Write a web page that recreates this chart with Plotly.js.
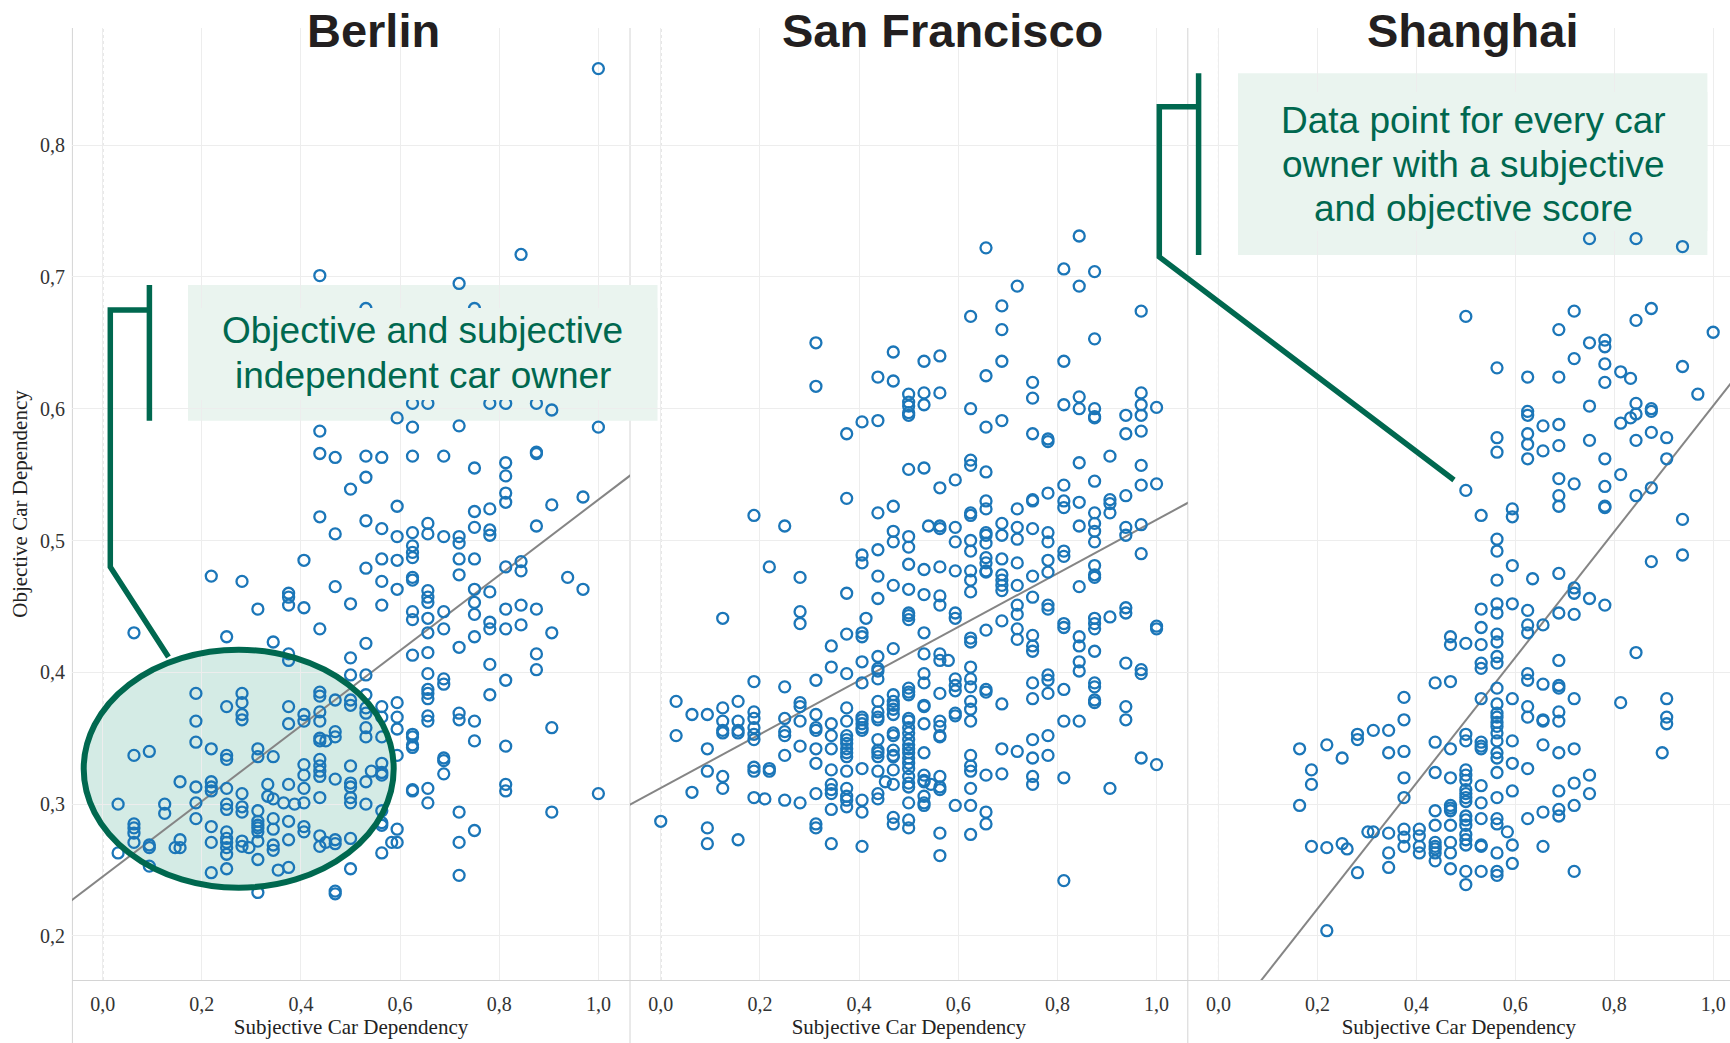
<!DOCTYPE html>
<html>
<head>
<meta charset="utf-8">
<script src="https://cdn.plot.ly/plotly-3.0.1.min.js"></script>
<style>
html,body{margin:0;padding:0;background:#ffffff;}
#chart{width:1730px;height:1043px;}
</style>
</head>
<body>
<div id="chart"></div>
<script>
// ---------------- DATA ----------------
const panelTitles = ['Berlin', 'San Francisco', 'Shanghai'];
const xAxisTitle = 'Subjective Car Dependency';
const yAxisTitle = 'Objective Car Dependency';
const xTickValues = [0, 0.2, 0.4, 0.6, 0.8, 1.0];
const xTickLabels = ['0,0', '0,2', '0,4', '0,6', '0,8', '1,0'];
const yTickValues = [0.2, 0.3, 0.4, 0.5, 0.6, 0.7, 0.8];
const yTickLabels = ['0,2', '0,3', '0,4', '0,5', '0,6', '0,7', '0,8'];
const berlinNote = ['Objective and subjective', 'independent car owner'];
const shanghaiNote = ['Data point for every car', 'owner with a subjective', 'and objective score'];

// [subjective, objective] per car owner
const berlinPoints = [
[0.031,0.300],[0.031,0.263],
[0.063,0.430],[0.063,0.337],[0.063,0.285],[0.063,0.282],[0.063,0.278],[0.063,0.271],
[0.094,0.340],[0.094,0.269],[0.094,0.267],[0.094,0.253],
[0.125,0.300],[0.125,0.293],[0.146,0.267],
[0.156,0.317],[0.156,0.273],[0.156,0.267],
[0.188,0.384],[0.188,0.363],[0.188,0.347],[0.188,0.313],[0.188,0.301],[0.188,0.289],
[0.219,0.473],[0.219,0.342],[0.219,0.317],[0.219,0.313],[0.219,0.310],[0.219,0.283],[0.219,0.271],[0.219,0.248],
[0.25,0.427],[0.25,0.374],[0.25,0.337],[0.25,0.334],[0.25,0.312],[0.25,0.300],[0.25,0.296],[0.25,0.279],[0.25,0.274],[0.25,0.271],[0.25,0.267],[0.25,0.262],[0.25,0.251],
[0.281,0.469],[0.281,0.384],[0.281,0.377],[0.281,0.368],[0.281,0.364],[0.281,0.308],[0.281,0.298],[0.281,0.294],[0.281,0.272],[0.281,0.268],
[0.295,0.267],
[0.313,0.448],[0.313,0.342],[0.313,0.336],[0.313,0.295],[0.313,0.287],[0.313,0.284],[0.313,0.282],[0.313,0.279],[0.313,0.272],[0.313,0.258],[0.313,0.233],
[0.333,0.315],[0.333,0.306],
[0.344,0.423],[0.344,0.336],[0.344,0.304],[0.344,0.289],[0.344,0.281],[0.344,0.269],[0.344,0.265],
[0.354,0.250],[0.365,0.301],
[0.375,0.460],[0.375,0.457],[0.375,0.451],[0.375,0.414],[0.375,0.409],[0.375,0.374],[0.375,0.361],[0.375,0.315],[0.375,0.287],[0.375,0.273],[0.375,0.252],
[0.387,0.300],
[0.406,0.485],[0.406,0.449],[0.406,0.368],[0.406,0.363],[0.406,0.330],[0.406,0.322],[0.406,0.312],[0.406,0.301],[0.406,0.283],[0.406,0.279],
[0.438,0.701],[0.438,0.583],[0.438,0.566],[0.438,0.518],[0.438,0.433],[0.438,0.385],[0.438,0.382],[0.438,0.370],[0.438,0.363],[0.438,0.350],[0.438,0.348],[0.438,0.334],[0.438,0.329],[0.438,0.325],[0.438,0.321],[0.438,0.305],[0.438,0.276],[0.438,0.268],
[0.45,0.348],[0.45,0.271],
[0.469,0.563],[0.469,0.505],[0.469,0.465],[0.469,0.379],[0.469,0.355],[0.469,0.351],[0.469,0.319],[0.469,0.273],[0.469,0.270],[0.469,0.234],[0.469,0.232],
[0.5,0.539],[0.5,0.452],[0.5,0.411],[0.5,0.398],[0.5,0.379],[0.5,0.375],[0.5,0.329],[0.5,0.316],[0.5,0.313],[0.5,0.305],[0.5,0.301],[0.5,0.274],[0.5,0.251],
[0.531,0.676],[0.531,0.564],[0.531,0.548],[0.531,0.515],[0.531,0.479],[0.531,0.422],[0.531,0.398],[0.531,0.383],[0.531,0.373],[0.531,0.369],[0.531,0.358],[0.531,0.351],[0.531,0.317],[0.531,0.300],
[0.542,0.325],
[0.563,0.563],[0.563,0.509],[0.563,0.486],[0.563,0.469],[0.563,0.451],[0.563,0.374],[0.563,0.366],[0.563,0.351],[0.563,0.331],[0.563,0.324],[0.563,0.322],[0.563,0.295],[0.563,0.286],[0.563,0.284],[0.563,0.263],
[0.583,0.271],
[0.594,0.593],[0.594,0.526],[0.594,0.503],[0.594,0.485],[0.594,0.463],[0.594,0.377],[0.594,0.366],[0.594,0.357],[0.594,0.337],[0.594,0.281],[0.594,0.271],
[0.625,0.604],[0.625,0.586],[0.625,0.564],[0.625,0.506],[0.625,0.496],[0.625,0.491],[0.625,0.487],[0.625,0.472],[0.625,0.470],[0.625,0.446],[0.625,0.440],[0.625,0.413],[0.625,0.353],[0.625,0.351],[0.625,0.345],[0.625,0.343],[0.625,0.311],[0.625,0.310],
[0.656,0.604],[0.656,0.513],[0.656,0.505],[0.656,0.462],[0.656,0.457],[0.656,0.453],[0.656,0.441],[0.656,0.430],[0.656,0.415],[0.656,0.399],[0.656,0.387],[0.656,0.384],[0.656,0.380],[0.656,0.367],[0.656,0.363],[0.656,0.312],[0.656,0.301],
[0.688,0.564],[0.688,0.503],[0.688,0.446],[0.688,0.433],[0.688,0.395],[0.688,0.391],[0.688,0.335],[0.688,0.333],[0.688,0.323],
[0.719,0.695],[0.719,0.587],[0.719,0.503],[0.719,0.498],[0.719,0.486],[0.719,0.474],[0.719,0.419],[0.719,0.369],[0.719,0.364],[0.719,0.294],[0.719,0.271],[0.719,0.246],
[0.75,0.676],[0.75,0.555],[0.75,0.522],[0.75,0.510],[0.75,0.486],[0.75,0.463],[0.75,0.453],[0.75,0.444],[0.75,0.427],[0.75,0.363],[0.75,0.348],[0.75,0.280],
[0.781,0.604],[0.781,0.524],[0.781,0.508],[0.781,0.504],[0.781,0.461],[0.781,0.438],[0.781,0.433],[0.781,0.406],[0.781,0.383],
[0.813,0.604],[0.813,0.559],[0.813,0.549],[0.813,0.536],[0.813,0.529],[0.813,0.480],[0.813,0.448],[0.813,0.433],[0.813,0.394],[0.813,0.344],[0.813,0.315],[0.813,0.310],
[0.844,0.717],[0.844,0.484],[0.844,0.477],[0.844,0.451],[0.844,0.436],
[0.875,0.604],[0.875,0.567],[0.875,0.566],[0.875,0.511],[0.875,0.448],[0.875,0.414],[0.875,0.402],
[0.906,0.599],[0.906,0.527],[0.906,0.430],[0.906,0.358],[0.906,0.294],
[0.938,0.472],
[0.969,0.533],[0.969,0.463],
[1.0,0.858],[1.0,0.586],[1.0,0.308]
];

const sanFranciscoPoints = [
[0.0,0.287],
[0.031,0.378],[0.031,0.352],
[0.063,0.368],[0.063,0.309],
[0.094,0.368],[0.094,0.342],[0.094,0.325],[0.094,0.282],[0.094,0.270],
[0.125,0.441],[0.125,0.373],[0.125,0.363],[0.125,0.356],[0.125,0.354],[0.125,0.321],[0.125,0.312],
[0.156,0.378],[0.156,0.363],[0.156,0.356],[0.156,0.354],[0.156,0.273],
[0.188,0.519],[0.188,0.393],[0.188,0.370],[0.188,0.365],[0.188,0.358],[0.188,0.353],[0.188,0.349],[0.188,0.328],[0.188,0.325],[0.188,0.305],
[0.21,0.304],
[0.219,0.480],[0.219,0.327],[0.219,0.325],
[0.25,0.511],[0.25,0.389],[0.25,0.365],[0.25,0.355],[0.25,0.352],[0.25,0.337],[0.25,0.303],
[0.281,0.472],[0.281,0.446],[0.281,0.437],[0.281,0.377],[0.281,0.374],[0.281,0.363],[0.281,0.344],[0.281,0.301],
[0.313,0.650],[0.313,0.617],[0.313,0.394],[0.313,0.368],[0.313,0.358],[0.313,0.356],[0.313,0.342],[0.313,0.331],[0.313,0.308],[0.313,0.285],[0.313,0.282],
[0.344,0.420],[0.344,0.404],[0.344,0.361],[0.344,0.352],[0.344,0.342],[0.344,0.326],[0.344,0.315],[0.344,0.311],[0.344,0.308],[0.344,0.296],[0.344,0.270],
[0.375,0.581],[0.375,0.532],[0.375,0.460],[0.375,0.429],[0.375,0.399],[0.375,0.373],[0.375,0.363],[0.375,0.352],[0.375,0.349],[0.375,0.346],[0.375,0.342],[0.375,0.339],[0.375,0.336],[0.375,0.325],[0.375,0.312],[0.375,0.306],[0.375,0.303],[0.375,0.298],
[0.406,0.590],[0.406,0.489],[0.406,0.483],[0.406,0.430],[0.406,0.427],[0.406,0.408],[0.406,0.392],[0.406,0.366],[0.406,0.364],[0.406,0.361],[0.406,0.358],[0.406,0.356],[0.406,0.327],[0.406,0.303],[0.406,0.294],[0.406,0.268],
[0.414,0.441],
[0.438,0.624],[0.438,0.591],[0.438,0.521],[0.438,0.493],[0.438,0.473],[0.438,0.456],[0.438,0.412],[0.438,0.403],[0.438,0.401],[0.438,0.395],[0.438,0.378],[0.438,0.370],[0.438,0.366],[0.438,0.364],[0.438,0.349],[0.438,0.341],[0.438,0.339],[0.438,0.336],[0.438,0.325],[0.438,0.308],[0.438,0.304],
[0.453,0.317],
[0.469,0.643],[0.469,0.621],[0.469,0.526],[0.469,0.507],[0.469,0.499],[0.469,0.466],[0.469,0.418],[0.469,0.383],[0.469,0.378],[0.469,0.375],[0.469,0.372],[0.469,0.368],[0.469,0.354],[0.469,0.352],[0.469,0.341],[0.469,0.337],[0.469,0.336],[0.469,0.326],[0.469,0.315],[0.469,0.290],[0.469,0.285],
[0.5,0.611],[0.5,0.605],[0.5,0.602],[0.5,0.597],[0.5,0.595],[0.5,0.554],[0.5,0.503],[0.5,0.495],[0.5,0.482],[0.5,0.463],[0.5,0.445],[0.5,0.443],[0.5,0.440],[0.5,0.388],[0.5,0.385],[0.5,0.383],[0.5,0.365],[0.5,0.363],[0.5,0.358],[0.5,0.354],[0.5,0.349],[0.5,0.345],[0.5,0.342],[0.5,0.339],[0.5,0.335],[0.5,0.331],[0.5,0.327],[0.5,0.321],[0.5,0.316],[0.5,0.313],[0.5,0.301],[0.5,0.288],[0.5,0.282],
[0.531,0.636],[0.531,0.612],[0.531,0.603],[0.531,0.555],[0.531,0.478],[0.531,0.459],[0.531,0.430],[0.531,0.414],[0.531,0.399],[0.531,0.392],[0.531,0.375],[0.531,0.374],[0.531,0.361],[0.531,0.339],[0.531,0.322],[0.531,0.318],[0.531,0.317],[0.531,0.306],[0.531,0.301],[0.531,0.299],
[0.54,0.511],[0.545,0.315],
[0.563,0.640],[0.563,0.612],[0.563,0.540],[0.563,0.511],[0.563,0.509],[0.563,0.480],[0.563,0.458],[0.563,0.451],[0.563,0.414],[0.563,0.409],[0.563,0.384],[0.563,0.363],[0.563,0.359],[0.563,0.352],[0.563,0.351],[0.563,0.321],[0.563,0.313],[0.563,0.311],[0.563,0.278],[0.563,0.261],
[0.58,0.409],
[0.594,0.546],[0.594,0.510],[0.594,0.499],[0.594,0.477],[0.594,0.445],[0.594,0.441],[0.594,0.395],[0.594,0.390],[0.594,0.386],[0.594,0.369],[0.594,0.367],[0.594,0.299],
[0.625,0.670],[0.625,0.600],[0.625,0.561],[0.625,0.557],[0.625,0.521],[0.625,0.519],[0.625,0.500],[0.625,0.492],[0.625,0.477],[0.625,0.470],[0.625,0.461],[0.625,0.426],[0.625,0.423],[0.625,0.404],[0.625,0.395],[0.625,0.389],[0.625,0.378],[0.625,0.372],[0.625,0.363],[0.625,0.337],[0.625,0.329],[0.625,0.325],[0.625,0.312],[0.625,0.299],[0.625,0.277],
[0.656,0.722],[0.656,0.625],[0.656,0.586],[0.656,0.552],[0.656,0.530],[0.656,0.524],[0.656,0.506],[0.656,0.504],[0.656,0.498],[0.656,0.487],[0.656,0.483],[0.656,0.477],[0.656,0.476],[0.656,0.432],[0.656,0.387],[0.656,0.385],[0.656,0.322],[0.656,0.294],[0.656,0.285],
[0.688,0.678],[0.688,0.660],[0.688,0.636],[0.688,0.591],[0.688,0.513],[0.688,0.504],[0.688,0.486],[0.688,0.474],[0.688,0.470],[0.688,0.466],[0.688,0.462],[0.688,0.439],[0.688,0.376],[0.688,0.342],[0.688,0.323],
[0.719,0.693],[0.719,0.524],[0.719,0.510],[0.719,0.501],[0.719,0.483],[0.719,0.466],[0.719,0.451],[0.719,0.444],[0.719,0.433],[0.719,0.425],[0.719,0.340],
[0.75,0.620],[0.75,0.608],[0.75,0.581],[0.75,0.531],[0.75,0.530],[0.75,0.509],[0.75,0.473],[0.75,0.457],[0.75,0.428],[0.75,0.420],[0.75,0.416],[0.75,0.392],[0.75,0.380],[0.75,0.349],[0.75,0.335],[0.75,0.321],[0.75,0.315],
[0.781,0.577],[0.781,0.575],[0.781,0.536],[0.781,0.506],[0.781,0.499],[0.781,0.485],[0.781,0.476],[0.781,0.451],[0.781,0.448],[0.781,0.398],[0.781,0.394],[0.781,0.384],[0.781,0.352],[0.781,0.337],
[0.813,0.706],[0.813,0.636],[0.813,0.603],[0.813,0.542],[0.813,0.530],[0.813,0.525],[0.813,0.492],[0.813,0.488],[0.813,0.437],[0.813,0.434],[0.813,0.387],[0.813,0.363],[0.813,0.320],[0.813,0.242],
[0.844,0.731],[0.844,0.693],[0.844,0.609],[0.844,0.600],[0.844,0.559],[0.844,0.529],[0.844,0.511],[0.844,0.465],[0.844,0.427],[0.844,0.420],[0.844,0.408],[0.844,0.401],[0.844,0.363],
[0.875,0.704],[0.875,0.653],[0.875,0.600],[0.875,0.594],[0.875,0.593],[0.875,0.545],[0.875,0.521],[0.875,0.513],[0.875,0.507],[0.875,0.499],[0.875,0.481],[0.875,0.474],[0.875,0.472],[0.875,0.441],[0.875,0.437],[0.875,0.433],[0.875,0.416],[0.875,0.392],[0.875,0.389],[0.875,0.379],[0.875,0.377],
[0.906,0.564],[0.906,0.531],[0.906,0.528],[0.906,0.521],[0.906,0.442],[0.906,0.312],
[0.938,0.595],[0.938,0.581],[0.938,0.534],[0.938,0.510],[0.938,0.504],[0.938,0.449],[0.938,0.445],[0.938,0.407],[0.938,0.374],[0.938,0.364],
[0.969,0.674],[0.969,0.612],[0.969,0.603],[0.969,0.595],[0.969,0.583],[0.969,0.557],[0.969,0.542],[0.969,0.512],[0.969,0.490],[0.969,0.402],[0.969,0.399],[0.969,0.335],
[1.0,0.601],[1.0,0.543],[1.0,0.435],[1.0,0.433],[1.0,0.330]
];

const shanghaiPoints = [
[0.164,0.342],[0.164,0.299],
[0.188,0.326],[0.188,0.315],[0.188,0.268],
[0.219,0.345],[0.219,0.267],[0.219,0.204],
[0.25,0.335],[0.25,0.270],[0.26,0.266],
[0.281,0.353],[0.281,0.349],[0.281,0.248],
[0.302,0.279],
[0.313,0.356],[0.313,0.279],
[0.344,0.356],[0.344,0.339],[0.344,0.278],[0.344,0.263],[0.344,0.252],
[0.375,0.381],[0.375,0.364],[0.375,0.340],[0.375,0.320],[0.375,0.305],[0.375,0.281],[0.375,0.275],[0.375,0.268],
[0.406,0.281],[0.406,0.276],[0.406,0.268],[0.406,0.263],
[0.438,0.392],[0.438,0.347],[0.438,0.324],[0.438,0.295],[0.438,0.284],[0.438,0.271],[0.438,0.268],[0.438,0.266],[0.438,0.263],[0.438,0.257],
[0.469,0.427],[0.469,0.421],[0.469,0.393],[0.469,0.342],[0.469,0.320],[0.469,0.299],[0.469,0.297],[0.469,0.295],[0.469,0.284],[0.469,0.271],[0.469,0.263],[0.469,0.251],
[0.5,0.670],[0.5,0.538],[0.5,0.422],[0.5,0.353],[0.5,0.348],[0.5,0.326],[0.5,0.322],[0.5,0.318],[0.5,0.311],[0.5,0.308],[0.5,0.305],[0.5,0.302],[0.5,0.291],[0.5,0.288],[0.5,0.284],[0.5,0.277],[0.5,0.273],[0.5,0.269],[0.5,0.249],[0.5,0.239],
[0.531,0.519],[0.531,0.448],[0.531,0.434],[0.531,0.421],[0.531,0.407],[0.531,0.403],[0.531,0.380],[0.531,0.347],[0.531,0.344],[0.531,0.342],[0.531,0.314],[0.531,0.301],[0.531,0.289],[0.531,0.269],[0.531,0.268],[0.531,0.249],
[0.563,0.631],[0.563,0.578],[0.563,0.567],[0.563,0.501],[0.563,0.492],[0.563,0.470],[0.563,0.452],[0.563,0.445],[0.563,0.429],[0.563,0.423],[0.563,0.412],[0.563,0.407],[0.563,0.388],[0.563,0.376],[0.563,0.369],[0.563,0.366],[0.563,0.362],[0.563,0.359],[0.563,0.354],[0.563,0.348],[0.563,0.339],[0.563,0.335],[0.563,0.324],[0.563,0.305],[0.563,0.289],[0.563,0.285],[0.563,0.263],[0.563,0.249],[0.563,0.246],
[0.584,0.279],
[0.594,0.524],[0.594,0.518],[0.594,0.481],[0.594,0.452],[0.594,0.380],[0.594,0.348],[0.594,0.331],[0.594,0.310],[0.594,0.269],[0.594,0.255],
[0.625,0.624],[0.625,0.598],[0.625,0.595],[0.625,0.581],[0.625,0.573],[0.625,0.562],[0.625,0.447],[0.625,0.436],[0.625,0.430],[0.625,0.399],[0.625,0.394],[0.625,0.374],[0.625,0.366],[0.625,0.327],[0.625,0.289],
[0.635,0.471],
[0.656,0.587],[0.656,0.568],[0.656,0.436],[0.656,0.391],[0.656,0.364],[0.656,0.363],[0.656,0.345],[0.656,0.294],[0.656,0.268],
[0.688,0.660],[0.688,0.624],[0.688,0.588],[0.688,0.572],[0.688,0.547],[0.688,0.534],[0.688,0.526],[0.688,0.475],[0.688,0.445],[0.688,0.409],[0.688,0.390],[0.688,0.388],[0.688,0.370],[0.688,0.363],[0.688,0.339],[0.688,0.310],[0.688,0.296],[0.688,0.291],
[0.719,0.674],[0.719,0.638],[0.719,0.543],[0.719,0.464],[0.719,0.460],[0.719,0.444],[0.719,0.380],[0.719,0.342],[0.719,0.316],[0.719,0.299],[0.719,0.249],
[0.75,0.729],[0.75,0.650],[0.75,0.602],[0.75,0.576],[0.75,0.456],[0.75,0.322],[0.75,0.308],
[0.781,0.652],[0.781,0.647],[0.781,0.634],[0.781,0.620],[0.781,0.562],[0.781,0.541],[0.781,0.526],[0.781,0.525],[0.781,0.451],
[0.813,0.628],[0.813,0.589],[0.813,0.550],[0.813,0.377],
[0.833,0.623],[0.833,0.593],
[0.844,0.729],[0.844,0.667],[0.844,0.604],[0.844,0.596],[0.844,0.576],[0.844,0.534],[0.844,0.415],
[0.875,0.676],[0.875,0.600],[0.875,0.598],[0.875,0.582],[0.875,0.540],[0.875,0.484],
[0.897,0.339],
[0.906,0.578],[0.906,0.562],[0.906,0.380],[0.906,0.366],[0.906,0.361],
[0.938,0.723],[0.938,0.632],[0.938,0.516],[0.938,0.489],
[0.969,0.611],
[1.0,0.658]
];

// fitted trend lines (two end points each)
const berlinFitX = [-0.07, 1.07];
const berlinFitY = [0.225, 0.551];
const sanFranciscoFitX = [-0.07, 1.07];
const sanFranciscoFitY = [0.298, 0.530];
const shanghaiFitX = [0.05, 1.05];
const shanghaiFitY = [0.149, 0.626];

// ---------------- STYLE / LAYOUT HELPERS ----------------
const W = 1730, H = 1043;
const ML = 72, MR = 0, MT = 28, MB = 63;
const PW = W - ML - MR, PH = H - MT - MB;
const PX = p => (p - ML) / PW;          // pixel x -> paper x
const PY = p => (H - MB - p) / PH;      // pixel y -> paper y

const green = '#00684f';
const mint = '#eaf4ef';
const markerBlue = '#1b76b8';
const serif = 'Liberation Serif, Times New Roman, serif';
const sans = 'Liberation Sans, Arial, sans-serif';

const xSplit1 = 630, xSplit2 = 1187.8;

function scatter(points, xa) {
  return {
    type: 'scatter', mode: 'markers',
    x: points.map(p => p[0]), y: points.map(p => p[1]),
    xaxis: xa, yaxis: 'y',
    marker: {symbol: 'circle-open', size: 11, color: markerBlue, line: {width: 2.3, color: markerBlue}},
    hoverinfo: 'x+y', showlegend: false
  };
}
function fit(xs, ys, xa) {
  return {
    type: 'scatter', mode: 'lines', x: xs, y: ys, xaxis: xa, yaxis: 'y',
    line: {color: '#858585', width: 2}, hoverinfo: 'skip', showlegend: false
  };
}

const traces = [
  fit(berlinFitX, berlinFitY, 'x'),
  fit(sanFranciscoFitX, sanFranciscoFitY, 'x2'),
  fit(shanghaiFitX, shanghaiFitY, 'x3'),
  scatter(berlinPoints, 'x'),
  scatter(sanFranciscoPoints, 'x2'),
  scatter(shanghaiPoints, 'x3')
];

function xAxis(domain, range) {
  return {
    domain: domain, range: range, anchor: 'y',
    tickmode: 'array', tickvals: xTickValues, ticktext: xTickLabels,
    ticks: '', ticklabelstandoff: 6,
    tickfont: {family: serif, size: 20, color: '#333333'},
    showgrid: true, gridcolor: '#ededed', gridwidth: 1,
    zeroline: false, showline: true, linecolor: '#d4d4d4', linewidth: 1,
    title: {text: xAxisTitle, font: {family: serif, size: 21, color: '#222222'}, standoff: 4},
    fixedrange: true
  };
}

const layout = {
  width: W, height: H,
  margin: {l: ML, r: MR, t: MT, b: MB},
  paper_bgcolor: '#ffffff', plot_bgcolor: '#ffffff',
  showlegend: false,
  xaxis: xAxis([0, PX(xSplit1)], [-0.062, 1.0638]),
  xaxis2: xAxis([PX(xSplit1), PX(xSplit2)], [-0.062, 1.063]),
  xaxis3: xAxis([PX(xSplit2), 1], [-0.062, 1.034]),
  yaxis: {
    domain: [0, 1], range: [0.1666, 0.8888], anchor: 'x',
    tickmode: 'array', tickvals: yTickValues, ticktext: yTickLabels,
    ticks: '', ticklabelstandoff: 6,
    tickfont: {family: serif, size: 20, color: '#333333'},
    showgrid: true, gridcolor: '#ededed', gridwidth: 1,
    zeroline: false, showline: false,
    title: {text: yAxisTitle, font: {family: serif, size: 21, color: '#222222'}, standoff: 6},
    fixedrange: true
  },
  shapes: [],
  annotations: []
};

// panel separators (full height, like the original)
[ML + 0.4, xSplit1, xSplit2].forEach(px => {
  layout.shapes.push({type: 'line', xref: 'paper', yref: 'paper', x0: PX(px), x1: PX(px), y0: PY(H), y1: 1,
    line: {color: '#d4d4d4', width: 1}, layer: 'below'});
});
// dotted zero lines
['x', 'x2', 'x3'].forEach(xa => {
  layout.shapes.push({type: 'line', xref: xa, yref: 'paper', x0: 0, x1: 0, y0: 0, y1: 1,
    line: {color: '#9a9a9a', width: 1, dash: 'dot'}, layer: 'below'});
});
// note boxes
layout.shapes.push({type: 'rect', xref: 'paper', yref: 'paper', x0: PX(188), x1: PX(657.5), y0: PY(420.7), y1: PY(285),
  fillcolor: mint, line: {width: 0}, layer: 'below'});
layout.shapes.push({type: 'rect', xref: 'paper', yref: 'paper', x0: PX(188), x1: PX(657.5), y0: PY(400), y1: PY(308),
  fillcolor: mint, line: {width: 0}, layer: 'above'});
layout.shapes.push({type: 'rect', xref: 'paper', yref: 'paper', x0: PX(1238), x1: PX(1707.4), y0: PY(255), y1: PY(73.3),
  fillcolor: mint, line: {width: 0}, layer: 'below'});
layout.shapes.push({type: 'rect', xref: 'paper', yref: 'paper', x0: PX(1238), x1: PX(1707.4), y0: PY(231), y1: PY(92),
  fillcolor: mint, line: {width: 0}, layer: 'above'});
// highlight ellipse (fill below points, outline above)
layout.shapes.push({type: 'circle', xref: 'paper', yref: 'paper', x0: PX(83.7), x1: PX(393.7), y0: PY(887.7), y1: PY(649.7),
  fillcolor: '#d4ebe5', line: {width: 0}, layer: 'below'});
layout.shapes.push({type: 'circle', xref: 'paper', yref: 'paper', x0: PX(83.7), x1: PX(393.7), y0: PY(887.7), y1: PY(649.7),
  fillcolor: 'rgba(0,0,0,0)', line: {color: green, width: 6}, layer: 'above'});
// callout brackets
function path(pts) {
  return pts.map((p, i) => (i ? 'L' : 'M') + PX(p[0]).toFixed(5) + ',' + PY(p[1]).toFixed(5)).join(' ');
}
layout.shapes.push({type: 'path', xref: 'paper', yref: 'paper', path: path([[149.4, 285], [149.4, 420.7]]),
  line: {color: green, width: 5.5}, layer: 'above'});
layout.shapes.push({type: 'path', xref: 'paper', yref: 'paper', path: path([[149.4, 310], [110.3, 310], [110.3, 567], [168.5, 657]]),
  line: {color: green, width: 5.5}, layer: 'above'});
layout.shapes.push({type: 'path', xref: 'paper', yref: 'paper', path: path([[1198.6, 73.3], [1198.6, 255]]),
  line: {color: green, width: 5.5}, layer: 'above'});
layout.shapes.push({type: 'path', xref: 'paper', yref: 'paper', path: path([[1198.6, 106.7], [1159.3, 106.7], [1159.3, 257], [1454, 480]]),
  line: {color: green, width: 5.5}, layer: 'above'});

// panel titles
[[373.5, panelTitles[0]], [942.5, panelTitles[1]], [1473, panelTitles[2]]].forEach(t => {
  layout.annotations.push({xref: 'paper', yref: 'paper', x: PX(t[0]), y: PY(30.7), text: '<b>' + t[1] + '</b>',
    showarrow: false, xanchor: 'center', yanchor: 'middle',
    font: {family: sans, size: 47, color: '#231f20'}});
});
// note texts
berlinNote.forEach((line, i) => {
  layout.annotations.push({xref: 'paper', yref: 'paper', x: PX(422.8), y: PY(330.5 + 45 * i), text: line,
    showarrow: false, xanchor: 'center', yanchor: 'middle', font: {family: sans, size: 37, color: green}});
});
shanghaiNote.forEach((line, i) => {
  layout.annotations.push({xref: 'paper', yref: 'paper', x: PX(1473), y: PY(120.5 + 44.2 * i), text: line,
    showarrow: false, xanchor: 'center', yanchor: 'middle', font: {family: sans, size: 37, color: green}});
});

Plotly.newPlot('chart', traces, layout, {displayModeBar: false, staticPlot: true});
</script>
</body>
</html>
